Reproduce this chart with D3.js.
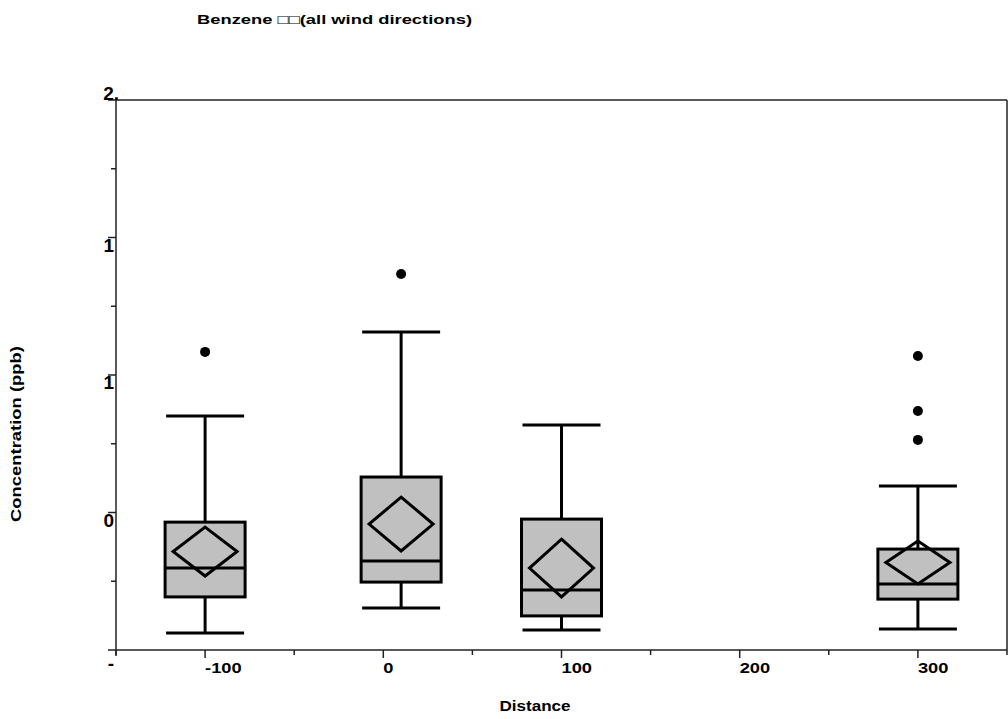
<!DOCTYPE html>
<html>
<head>
<meta charset="utf-8">
<script src="https://cdn.jsdelivr.net/npm/d3@7"></script>
<style>
  body { margin: 0; background: #fff; }
  text { font-family: "Liberation Sans", Arial, sans-serif; font-weight: bold; fill: #000; }
</style>
</head>
<body>
<div id="chart"></div>
<script>
var width = 1008;
var height = 719;

// box plot stats per distance (ppb)
var distances   = [-100, 10, 100, 300];
var whiskerLow  = [0.062, 0.153, 0.073, 0.076];
var q1          = [0.193, 0.247, 0.124, 0.185];
var medians     = [0.298, 0.324, 0.218, 0.240];
var q3          = [0.465, 0.629, 0.476, 0.367];
var whiskerHigh = [0.851, 1.156, 0.818, 0.596];
var means       = [0.358, 0.458, 0.298, 0.318];
var meanSpread  = [0.089, 0.098, 0.105, 0.078];
var outliers    = [[1.084], [1.367], [], [1.069, 0.869, 0.764]];

// axis ticks, labels as they show on the original
var xTickValues = [-150, -100, -50, 0, 50, 100, 150, 200, 250, 300, 350];
var xTickLabels = ["", "-100", "", "0", "", "100", "", "200", "", "300", ""];
var yTickValues = [0, 0.25, 0.5, 0.75, 1, 1.25, 1.5, 1.75, 2];
var yTickLabels = ["-", "", "0", "", "1", "", "1", "", "2."];

var titleText = "Benzene \u25A1\u25A1(all wind directions)";

var plotLeft = 116, plotRight = 1007, plotTop = 100, plotBottom = 650;
var sx = 1.22; // the original text is drawn a bit wide

var x = d3.scaleLinear().domain([-150, 350]).range([plotLeft, plotRight]);
var y = d3.scaleLinear().domain([0, 2]).range([plotBottom, plotTop]);

var svg = d3.select('#chart')
  .append('svg')
    .attr('width', width)
    .attr('height', height);

function wideText(g, str, px, py, size, anchor, rot) {
  return g.append('text')
    .attr('transform', 'translate(' + px + ',' + py + ')' + (rot ? ' rotate(' + rot + ')' : '') + ' scale(' + sx + ',1)')
    .attr('text-anchor', anchor)
    .style('font-size', size + 'px')
    .text(str);
}

// frame
var axisColor = '#222';
svg.append('line').attr('x1', plotLeft).attr('x2', plotRight).attr('y1', plotTop).attr('y2', plotTop)
  .attr('stroke', axisColor).attr('stroke-width', 1.5);
svg.append('line').attr('x1', plotRight).attr('x2', plotRight).attr('y1', plotTop).attr('y2', plotBottom)
  .attr('stroke', axisColor).attr('stroke-width', 1.5);

// x axis
var xAxis = svg.append('g');
xAxis.append('line').attr('x1', plotLeft).attr('x2', plotRight).attr('y1', plotBottom).attr('y2', plotBottom)
  .attr('stroke', axisColor).attr('stroke-width', 1.5);
xAxis.selectAll('line.tick')
  .data(xTickValues)
  .join('line')
    .attr('class', 'tick')
    .attr('x1', d => x(d)).attr('x2', d => x(d))
    .attr('y1', plotBottom)
    .attr('y2', (d, i) => plotBottom + (xTickLabels[i] ? 8 : 5))
    .attr('stroke', axisColor).attr('stroke-width', 1.5);
xTickValues.forEach(function(v, i) {
  if (xTickLabels[i]) wideText(xAxis, xTickLabels[i], x(v), 673, 15, 'start');
});

// y axis
var yAxis = svg.append('g');
yAxis.append('line').attr('x1', plotLeft).attr('x2', plotLeft).attr('y1', plotTop).attr('y2', plotBottom + 6)
  .attr('stroke', axisColor).attr('stroke-width', 1.5);
yAxis.selectAll('line.tick')
  .data(yTickValues)
  .join('line')
    .attr('class', 'tick')
    .attr('x1', plotLeft)
    .attr('x2', (d, i) => plotLeft - (yTickLabels[i] ? 8 : 5))
    .attr('y1', d => y(d)).attr('y2', d => y(d))
    .attr('stroke', axisColor).attr('stroke-width', 1.5);
yAxis.selectAll('text')
  .data(yTickValues.filter((d, i) => yTickLabels[i]))
  .join('text')
    .attr('text-anchor', 'end')
    .attr('x', d => d == 2 ? 119 : 114)
    .attr('y', d => d == 2 ? y(d) : y(d) + (d == 0 ? 20 : 14))
    .style('font-size', '19px')
    .text(d => yTickLabels[yTickValues.indexOf(d)]);

// titles
wideText(svg, titleText, 197, 24, 13, 'start')
  .attr('textLength', 275 / sx)
  .attr('lengthAdjust', 'spacingAndGlyphs');
wideText(svg, 'Distance', 535, 711, 14, 'middle');
wideText(svg, 'Concentration (ppb)', 21, 434, 14, 'middle', -90)
  .attr('textLength', 176 / sx)
  .attr('lengthAdjust', 'spacingAndGlyphs');

// boxes
var boxHalf = 40, capHalf = 39, diaHalf = 32;
var stats = distances.map((d, i) => ({
  d: d, lo: whiskerLow[i], q1: q1[i], med: medians[i], q3: q3[i],
  hi: whiskerHigh[i], mean: means[i], spread: meanSpread[i], out: outliers[i]
}));

var box = svg.append('g')
  .selectAll('g')
  .data(stats)
  .join('g')
    .attr('stroke', '#000')
    .attr('stroke-width', 3);

// whiskers
box.append('line')
  .attr('x1', d => x(d.d)).attr('x2', d => x(d.d))
  .attr('y1', d => y(d.q3)).attr('y2', d => y(d.hi));
box.append('line')
  .attr('x1', d => x(d.d)).attr('x2', d => x(d.d))
  .attr('y1', d => y(d.q1)).attr('y2', d => y(d.lo));
box.append('line')
  .attr('x1', d => x(d.d) - capHalf).attr('x2', d => x(d.d) + capHalf)
  .attr('y1', d => y(d.hi)).attr('y2', d => y(d.hi));
box.append('line')
  .attr('x1', d => x(d.d) - capHalf).attr('x2', d => x(d.d) + capHalf)
  .attr('y1', d => y(d.lo)).attr('y2', d => y(d.lo));

box.append('rect')
  .attr('x', d => x(d.d) - boxHalf)
  .attr('width', boxHalf * 2)
  .attr('y', d => y(d.q3))
  .attr('height', d => y(d.q1) - y(d.q3))
  .attr('fill', '#c0c0c0');

box.append('line')
  .attr('x1', d => x(d.d) - boxHalf).attr('x2', d => x(d.d) + boxHalf)
  .attr('y1', d => y(d.med)).attr('y2', d => y(d.med));

// mean diamonds
box.append('path')
  .attr('fill', 'none')
  .attr('d', function(d) {
    var cx = x(d.d);
    return 'M' + cx + ',' + y(d.mean + d.spread) +
      'L' + (cx + diaHalf) + ',' + y(d.mean) +
      'L' + cx + ',' + y(d.mean - d.spread) +
      'L' + (cx - diaHalf) + ',' + y(d.mean) + 'Z';
  });

// outliers
box.selectAll('circle')
  .data(d => d.out.map(v => ({d: d.d, v: v})))
  .join('circle')
    .attr('cx', d => x(d.d))
    .attr('cy', d => y(d.v))
    .attr('r', 5)
    .attr('stroke', 'none')
    .attr('fill', '#000');
</script>
</body>
</html>
